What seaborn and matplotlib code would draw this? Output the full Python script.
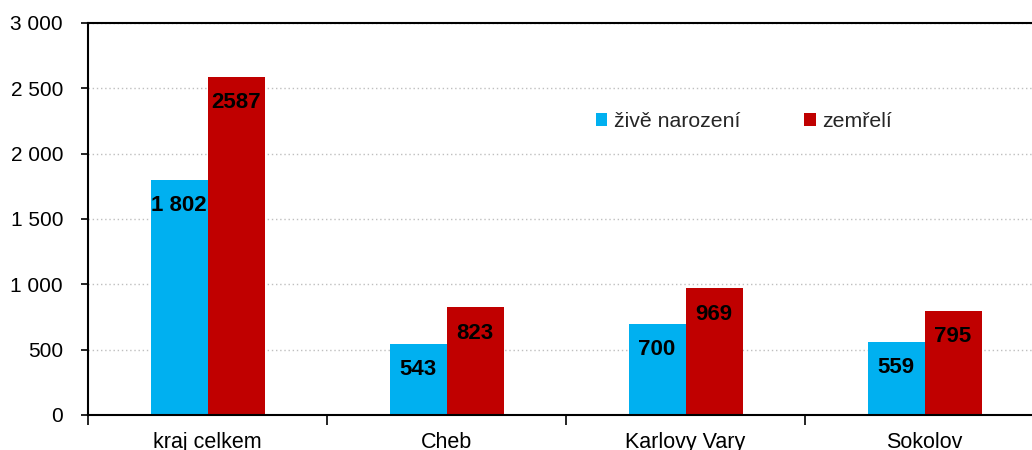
import numpy as np
import pandas as pd
import seaborn as sns
import matplotlib
matplotlib.use('Agg')
import matplotlib.pyplot as plt
from matplotlib.ticker import FuncFormatter, FixedLocator

# data
regions = ['kraj celkem', 'Cheb', 'Karlovy Vary', 'Sokolov']
born = [1802, 543, 700, 559]
died = [2587, 823, 969, 795]
born_labels = ['1 802', '543', '700', '559']
died_labels = ['2587', '823', '969', '795']
series = ['živě narození', 'zemřelí']
colors = ['#00B0F0', '#C00000']

sns.set_theme(style='white')
plt.rcParams['font.family'] = ['Liberation Sans', 'DejaVu Sans']

df = pd.DataFrame({
    'region': regions * 2,
    'value': born + died,
    'series': [series[0]] * len(regions) + [series[1]] * len(regions),
})

fig = plt.figure(figsize=(10.32, 4.5), dpi=100)
ax = fig.add_axes([0.0853, 0.0778, 0.9264, 0.8711])

sns.barplot(data=df, x='region', y='value', hue='series', order=regions,
            hue_order=series, palette=colors, width=0.477, gap=0,
            saturation=1, linewidth=0, ax=ax, legend=True)

ax.set_ylim(0, 3000)
ax.set_xlim(-0.5, len(regions) - 0.5)
ax.set_yticks(np.arange(0, 3001, 500))
ax.yaxis.set_major_formatter(FuncFormatter(lambda v, p: f'{v:,.0f}'.replace(',', ' ')))
ax.yaxis.grid(True, linestyle=(0, (1, 2)), color='#BFBFBF', linewidth=1)
ax.set_axisbelow(True)

# category separators as ticks
ax.xaxis.set_minor_locator(FixedLocator(np.arange(-0.5, len(regions), 1)))
ax.tick_params(axis='x', which='major', length=0, pad=12.5, labelsize=15.5, colors='black')
ax.tick_params(axis='x', which='minor', length=7, width=1.2, direction='out', color='black', bottom=True)
ax.tick_params(axis='y', length=5, width=1.2, direction='out', color='black', labelsize=15,
               left=True, pad=13)
for lbl in ax.get_yticklabels():
    lbl.set_color('black')
ax.set_xlabel('')
ax.set_ylabel('')

for side in ['left', 'bottom', 'top']:
    ax.spines[side].set_visible(True)
    ax.spines[side].set_color('black')
    ax.spines[side].set_linewidth(1.5)
ax.spines['right'].set_visible(False)

# value labels inside bars near the top
for cont, labels in zip(ax.containers, [born_labels, died_labels]):
    for patch, txt in zip(cont.patches, labels):
        ax.annotate(txt, (patch.get_x() + patch.get_width() / 2, patch.get_height()),
                    xytext=(0, -18.5), textcoords='offset points', ha='center', va='center',
                    fontsize=16, fontweight='bold', color='black')

ax.legend(loc='center left', bbox_to_anchor=(0.531, 0.749), ncol=2, frameon=False,
          handlelength=0.55, handleheight=0.55, handletextpad=0.3, columnspacing=3.0,
          borderpad=0, borderaxespad=0, fontsize=15.3)

fig.savefig('out.png', dpi=100)
